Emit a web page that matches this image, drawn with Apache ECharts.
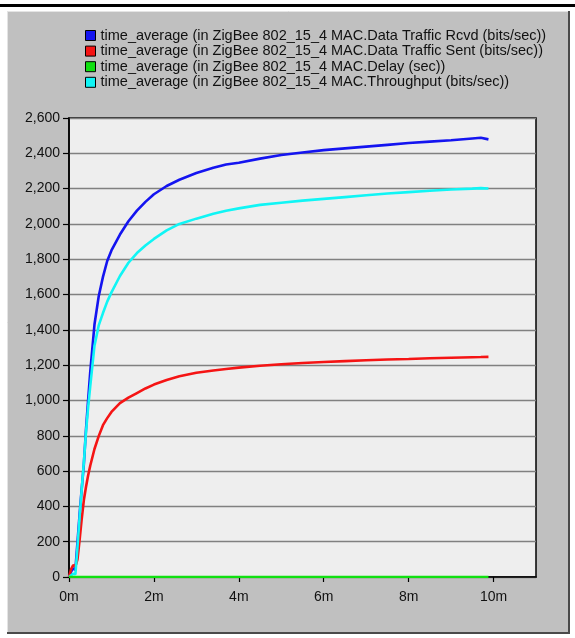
<!DOCTYPE html>
<html>
<head>
<meta charset="utf-8">
<script src="https://cdn.jsdelivr.net/npm/echarts@6/dist/echarts.min.js"></script>
<style>
html,body{margin:0;padding:0;background:#fff;}
#chart{width:575px;height:638px;}
</style>
</head>
<body>
<div id="chart"></div>
<script>
// time in minutes
const timeMin = [0, 0.05, 0.1, 0.15, 0.2, 0.25, 0.3, 0.35, 0.4, 0.45, 0.5, 0.6, 0.7, 0.8, 0.9, 1.0, 1.2, 1.4, 1.6, 1.8, 2.0, 2.3, 2.6, 3.0, 3.4, 3.7, 4.0, 4.5, 5, 5.5, 6, 6.5, 7, 7.5, 8, 8.5, 9, 9.5, 9.7, 9.88];
const trafficRcvd = [0, 30, 50, 40, 198, 357, 500, 640, 835, 1000, 1160, 1430, 1590, 1700, 1790, 1850, 1940, 2015, 2075, 2125, 2168, 2215, 2250, 2288, 2318, 2337, 2347, 2370, 2390, 2405, 2418, 2428, 2438, 2448, 2458, 2466, 2474, 2484, 2488, 2479];
const trafficSent = [0, 45, 68, 60, 100, 210, 330, 436, 510, 575, 630, 725, 798, 860, 900, 935, 985, 1016, 1042, 1068, 1090, 1116, 1137, 1157, 1170, 1178, 1186, 1197, 1205, 1212, 1218, 1223, 1228, 1232, 1235, 1239, 1242, 1245, 1246, 1247];
const delaySec = [0, 0.01, 0.01, 0.01, 0.01, 0.01, 0.01, 0.01, 0.01, 0.01, 0.01, 0.01, 0.01, 0.01, 0.01, 0.01, 0.01, 0.01, 0.01, 0.01, 0.01, 0.01, 0.01, 0.01, 0.01, 0.01, 0.01, 0.01, 0.01, 0.01, 0.01, 0.01, 0.01, 0.01, 0.01, 0.01, 0.01, 0.01, 0.01, 0.01];
const throughput = [0, 10, 18, 15, 170, 340, 500, 650, 820, 960, 1080, 1310, 1425, 1495, 1560, 1612, 1705, 1780, 1835, 1878, 1915, 1963, 2000, 2030, 2058, 2075, 2088, 2108, 2120, 2132, 2142, 2152, 2162, 2172, 2180, 2188, 2195, 2200, 2203, 2201];

const seriesNames = [
  'time_average (in ZigBee 802_15_4 MAC.Data Traffic Rcvd (bits/sec))',
  'time_average (in ZigBee 802_15_4 MAC.Data Traffic Sent (bits/sec))',
  'time_average (in ZigBee 802_15_4 MAC.Delay (sec))',
  'time_average (in ZigBee 802_15_4 MAC.Throughput (bits/sec))'
];
const seriesValues = [trafficRcvd, trafficSent, delaySec, throughput];
const seriesColors = ['#1414f0', '#f51414', '#10e010', '#10f5f5'];
const xTickValues = [0, 2, 4, 6, 8, 10];

const chart = echarts.init(document.getElementById('chart'), null, {renderer: 'canvas'});

const series = seriesNames.map((name, i) => ({
  name: name,
  type: 'line',
  data: timeMin.map((t, j) => [t, seriesValues[i][j]]),
  showSymbol: false,
  symbol: 'none',
  lineStyle: {color: seriesColors[i], width: 2.6},
  itemStyle: {color: seriesColors[i]},
  z: i === 2 ? 3 : 2,
  animation: false
}));

chart.setOption({
  animation: false,
  backgroundColor: '#ffffff',
  graphic: [
    {type: 'rect', z: -20, shape: {x: 0, y: 4, width: 575, height: 3}, style: {fill: '#000'}},
    {type: 'rect', z: -20, shape: {x: 7, y: 11, width: 563, height: 623}, style: {fill: '#c0c0c0', stroke: null}},
    {type: 'line', z: -19, shape: {x1: 7, y1: 11.5, x2: 570, y2: 11.5}, style: {stroke: '#e4e4e4', lineWidth: 1}},
    {type: 'line', z: -19, shape: {x1: 7.5, y1: 11, x2: 7.5, y2: 634}, style: {stroke: '#e4e4e4', lineWidth: 1}},
    {type: 'line', z: -19, shape: {x1: 569, y1: 11, x2: 569, y2: 634}, style: {stroke: '#4a4a4a', lineWidth: 2}},
    {type: 'line', z: -19, shape: {x1: 7, y1: 633, x2: 570, y2: 633}, style: {stroke: '#4a4a4a', lineWidth: 2}}
  ],
  legend: {
    orient: 'vertical',
    left: 85,
    top: 28,
    padding: 0,
    icon: 'rect',
    itemWidth: 10,
    itemHeight: 10,
    itemGap: 0.6,
    itemStyle: {borderColor: '#000', borderWidth: 1},
    textStyle: {fontFamily: 'Liberation Sans, Arial, sans-serif', fontSize: 14.5, color: '#111', lineHeight: 14.5},
    data: seriesNames,
    selectedMode: false
  },
  grid: {
    left: 69, top: 118, right: 39, bottom: 61,
    show: true,
    backgroundColor: '#eeeeee',
    borderColor: '#000',
    borderWidth: 1.5
  },
  xAxis: {
    type: 'value',
    min: 0,
    max: 11,
    interval: 2,
    axisLine: {show: true, lineStyle: {color: '#000', width: 1.5}},
    axisTick: {show: true, length: 5, lineStyle: {color: '#000', width: 1.2}, customValues: xTickValues},
    axisLabel: {
      customValues: xTickValues,
      formatter: v => v + 'm',
      margin: 13,
      fontFamily: 'Liberation Sans, Arial, sans-serif',
      fontSize: 14,
      color: '#111'
    },
    splitLine: {show: false}
  },
  yAxis: {
    type: 'value',
    min: 0,
    max: 2600,
    interval: 200,
    axisLine: {show: true, lineStyle: {color: '#000', width: 1.5}},
    axisTick: {show: true, length: 6, lineStyle: {color: '#000', width: 1.2}},
    axisLabel: {
      formatter: v => v.toLocaleString('en-US'),
      margin: 9,
      fontFamily: 'Liberation Sans, Arial, sans-serif',
      fontSize: 14,
      color: '#111'
    },
    splitLine: {show: true, lineStyle: {color: '#808080', width: 1.3}}
  },
  series: series
});
</script>
</body>
</html>
